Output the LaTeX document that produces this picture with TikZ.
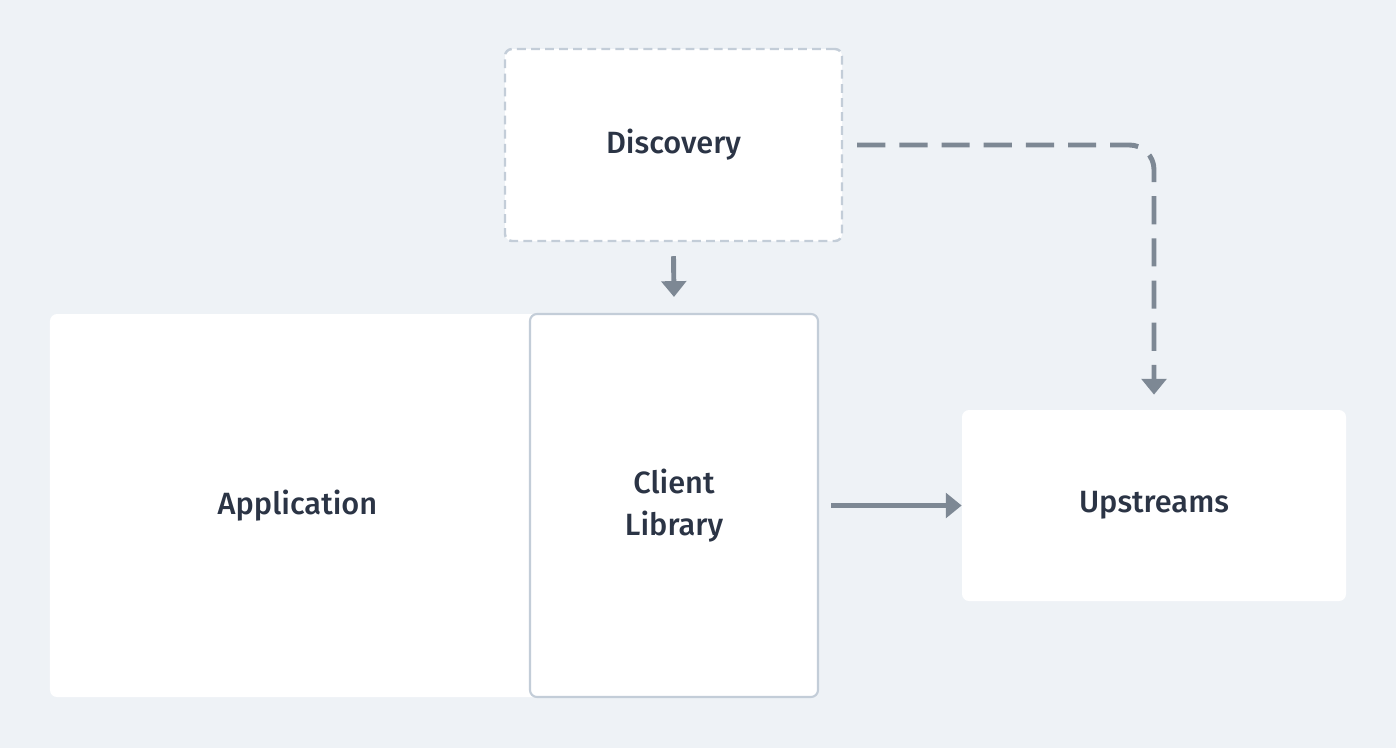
\documentclass[tikz,border=0pt]{standalone}
\usepackage{fontspec}
\setsansfont{Fira Sans}[UprightFont = {* Medium}]
\usetikzlibrary{arrows.meta}
\definecolor{bgcol}{HTML}{EEF2F6}
\definecolor{edgecol}{HTML}{C3CDD8}
\definecolor{arrcol}{HTML}{7D8894}
\definecolor{txtcol}{HTML}{2B3445}
\tikzset{
    box/.style = {fill = white, rounded corners = 4pt, inner sep = 0pt, align = center},
    link/.style = {draw = arrcol, line width = 2.8pt, -{Triangle[length = 9pt, width = 14pt]}}
}
\begin{document}
\begin{tikzpicture}[x = 0.02cm, y = -0.02cm]
        \fill[bgcol] (0,0) rectangle (1396,748);
        \begin{scope}[every node/.append style = {font = \sffamily\fontsize{17.5}{24}\selectfont, text = txtcol}]
            \node[box, minimum width = 0.02*495cm, minimum height = 0.02*383cm] (app) at (297.5,505.5) {Application};
            \node[box, draw = edgecol, line width = 1.2pt, minimum width = 0.02*288cm, minimum height = 0.02*383cm] (lib) at (674,505.5) {Client\\Library};
            \node[box, draw = edgecol, line width = 1.4pt, dash pattern = on 5pt off 3pt, minimum width = 0.02*337cm, minimum height = 0.02*192cm] (disc) at (673.5,145) {Discovery};
            \node[box, minimum width = 0.02*384cm, minimum height = 0.02*191cm] (up) at (1154,505.5) {Upstreams};
        \end{scope}
        \draw[link] ([yshift = -0.28cm]disc.south) -- ([yshift = 0.32cm]lib.north);
        \draw[link] ([xshift = 0.24cm]lib.east) -- (up.west);
        \draw[link, dash pattern = on 16pt off 8pt, rounded corners = 14pt] ([xshift = 0.28cm]disc.east) -| ([yshift = 0.3cm]up.north);
    \end{tikzpicture}
\end{document}
